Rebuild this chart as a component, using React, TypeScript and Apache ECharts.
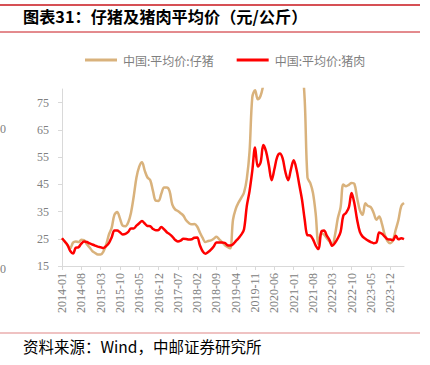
import React, { useEffect, useRef } from "react";
import * as echarts from "echarts";

const TITLE = "图表31：仔猪及猪肉平均价（元/公斤）";
const SOURCE = "资料来源：Wind，中邮证券研究所";
const SERIES_NAMES = ["中国:平均价:仔猪", "中国:平均价:猪肉"];
const Y_TICKS = [15, 25, 35, 45, 55, 65, 75];

// monthly categories 2014-01 .. 2024-05
const months: string[] = [];
for (let y = 2014; y <= 2024; y++) {
  for (let m = 1; m <= 12; m++) {
    if (y === 2024 && m > 5) break;
    months.push(`${y}-${m < 10 ? "0" + m : m}`);
  }
}

const piglet = [
  25.2, 24.0, 22.7, 21.6, 23.6, 24.0, 23.8, 24.6, 24.5, 23.0,
  21.8, 20.5, 19.8, 19.2, 19.2, 20.3, 22.8, 26.5, 29.0, 33.8,
  34.8, 32.5, 29.8, 29.6, 31.0, 34.5, 40.5, 47.5, 51.5, 53.1,
  50.0, 47.5, 46.5, 42.5, 39.0, 38.9, 41.5, 43.8, 43.8, 42.5,
  37.5, 35.8, 35.2, 34.4, 33.5, 31.8, 30.8, 30.3, 30.4, 29.5,
  27.3, 25.3, 23.8, 24.2, 24.4, 25.0, 25.7, 24.8, 23.8, 22.7,
  22.0, 21.5, 32.0, 36.0, 38.3, 40.0, 42.0, 47.0, 57.0, 77.0,
  79.5, 76.2, 77.5, 81.5, 86.0, 92.0, 98.0, 103.0, 107.0, 110.0,
  111.0, 109.0, 105.0, 100.0, 97.0, 93.0, 90.0, 88.0, 76.0, 47.5,
  45.5, 41.8, 34.0, 23.0, 27.0, 26.5, 25.2, 24.0, 22.8, 26.5,
  32.5, 36.5, 44.9, 44.3, 44.8, 45.5, 45.2, 40.0, 35.5, 33.8,
  38.0, 37.0, 36.6, 34.5, 32.0, 33.2, 30.5, 26.5, 24.2, 23.4,
  24.5, 28.3, 32.0, 37.0, 38.1,
];

const pork = [
  25.2, 24.0, 22.7, 20.5, 19.6, 21.7, 21.9, 23.2, 24.0, 23.8,
  23.3, 22.9, 22.5, 22.1, 21.9, 21.6, 22.3, 23.4, 25.5, 28.0,
  28.0, 27.4, 26.6, 26.8, 27.5, 28.8, 28.8, 29.8, 30.7, 31.5,
  30.6, 29.7, 29.6, 28.6, 28.1, 28.2, 29.3, 28.5, 27.4, 26.7,
  25.8, 24.6, 24.0, 24.3, 25.0, 24.9, 24.7, 24.8, 25.4, 25.5,
  22.6, 20.4, 19.5, 20.1, 21.0, 22.2, 23.6, 23.6, 23.6, 23.5,
  22.6, 22.5, 23.0, 24.1, 25.2, 26.5, 28.5, 37.0, 42.5, 50.0,
  58.5, 51.5, 53.0, 59.4, 57.0, 52.0, 46.5, 50.5, 55.0, 56.3,
  54.5, 49.5, 46.5, 50.5, 53.8, 50.5, 45.0, 39.5, 32.0, 26.3,
  26.2, 24.8, 22.5, 21.2, 27.5, 28.0, 26.2, 24.5, 22.4, 23.5,
  25.2, 27.5, 33.5, 34.5, 36.5, 41.8, 38.0, 32.0, 27.5, 25.8,
  25.0, 24.3, 23.8, 23.4, 23.6, 27.3, 26.8, 25.8, 24.9, 24.7,
  24.5, 26.1, 24.8, 25.2, 24.9,
];

const COLORS = ["#D9B27C", "#FF0000"];

export default function App() {
  const ref = useRef<HTMLDivElement>(null);
  useEffect(() => {
    if (!ref.current) return;
    const chart = echarts.init(ref.current, undefined, { renderer: "svg" });
    const axisLabelStyle = {
      color: "#808080",
      fontFamily: "Liberation Serif",
      fontSize: 12,
    };
    chart.setOption({
      animation: false,
      backgroundColor: "#ffffff",
      grid: { left: 62, right: 26, top: 89, bottom: 99, containLabel: false },
      legend: {
        top: 49,
        left: 80,
        icon: "rect",
        itemWidth: 32,
        itemHeight: 3,
        itemGap: 23,
        textStyle: { color: "#7f7f7f", fontSize: 12, fontFamily: "Noto Sans CJK SC", padding: [0, 0, 0, 1] },
        data: SERIES_NAMES,
      },
      xAxis: {
        type: "category",
        data: months,
        boundaryGap: false,
        axisLine: { lineStyle: { color: "#d9d9d9", width: 1 } },
        axisTick: { interval: 6, length: 4, lineStyle: { color: "#d9d9d9" } },
        axisLabel: { ...axisLabelStyle, interval: 6, rotate: 90, margin: 7 },
        splitLine: { show: false },
      },
      yAxis: {
        type: "value",
        min: 15,
        max: 80,
        axisLine: { show: true, lineStyle: { color: "#d9d9d9", width: 1 } },
        axisTick: { show: true, length: 4, customValues: Y_TICKS, lineStyle: { color: "#d9d9d9" } },
        axisLabel: { ...axisLabelStyle, customValues: Y_TICKS, margin: 13 },
        splitLine: { show: false },
      },
      series: [
        {
          name: SERIES_NAMES[0],
          type: "line",
          data: piglet,
          symbol: "none",
          smooth: 0.35,
          clip: true,
          lineStyle: { color: COLORS[0], width: 2.5 },
          itemStyle: { color: COLORS[0] },
        },
        {
          name: SERIES_NAMES[1],
          type: "line",
          data: pork,
          symbol: "none",
          smooth: 0.35,
          clip: true,
          lineStyle: { color: COLORS[1], width: 2.5 },
          itemStyle: { color: COLORS[1] },
        },
      ],
      graphic: [
        { type: "line", shape: { x1: 0, y1: 5, x2: 420, y2: 5 }, style: { stroke: "#c8161d", lineWidth: 1.5 } },
        { type: "line", shape: { x1: 0, y1: 32, x2: 420, y2: 32 }, style: { stroke: "#c8161d", lineWidth: 1 } },
        { type: "line", shape: { x1: 0, y1: 333, x2: 420, y2: 333 }, style: { stroke: "#e08585", lineWidth: 1.2 } },
        {
          type: "text",
          left: 23,
          top: 8,
          style: { text: TITLE, fontSize: 16.2, fontWeight: "bold", fill: "#000000", fontFamily: "Noto Sans CJK SC" },
        },
        {
          type: "text",
          left: 23,
          top: 338,
          style: { text: SOURCE, fontSize: 15.5, fill: "#000000", fontFamily: "Noto Sans CJK SC" },
        },
        {
          type: "text",
          x: 6,
          y: 129,
          style: { text: "0", align: "right", verticalAlign: "middle", fontSize: 12, fill: "#808080", fontFamily: "Liberation Serif" },
        },
        {
          type: "text",
          x: 6,
          y: 269,
          style: { text: "0", align: "right", verticalAlign: "middle", fontSize: 12, fill: "#808080", fontFamily: "Liberation Serif" },
        },
      ],
    });
    return () => chart.dispose();
  }, []);
  return (
    <div
      ref={ref}
      style={{ position: "fixed", left: 0, top: 0, width: 430, height: 365, background: "#fff" }}
    />
  );
}
